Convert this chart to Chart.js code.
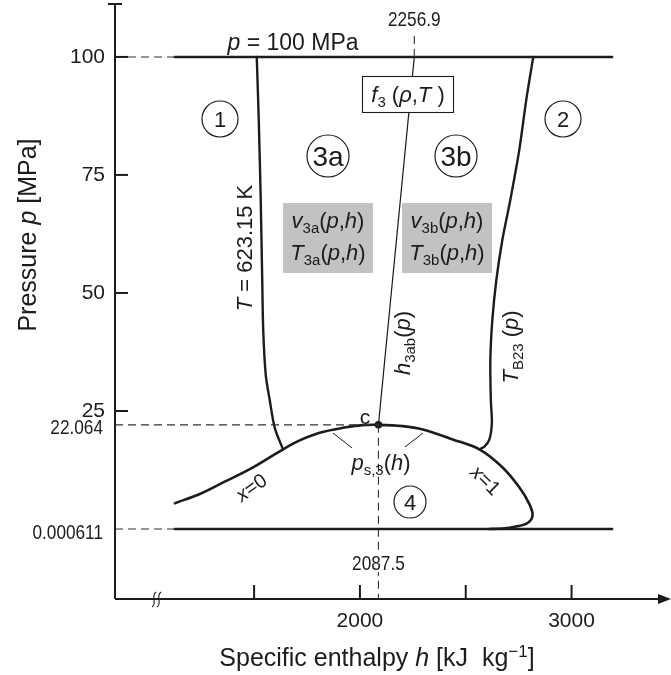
<!DOCTYPE html>
<html>
<head>
<meta charset="utf-8">
<script src="https://cdn.jsdelivr.net/npm/chart.js@4.4.1/dist/chart.umd.min.js"></script>
<style>
  html, body { margin: 0; padding: 0; background: #fff; }
  #wrap { width: 671px; height: 675px; }
</style>
</head>
<body>
<div id="wrap"><canvas id="chart" width="671" height="675"></canvas></div>
<script>
const FONT = '"Liberation Sans", Arial, Helvetica, sans-serif';
const INK = '#1c1c1c';

// axis ranges: h in kJ/kg, p in MPa
const H_MIN = 842.7, H_MAX = 3451;
const P_MIN = -14.83, P_MAX = 111.0;

const pTicks = [25, 50, 75, 100];
const pSpecial = [0.000611, 22.064];
const hTicks = [1500, 2000, 2500, 3000];
const hLabelled = [2000, 3000];

// critical point, 3a/3b split, pressure limits
const critH = 2087.5, critP = 22.064;
const h3abTop = 2256.9;
const pTriple = 0.000611;
const pUpper = 100;
const boundH = [1125.7, 3191.7];

// saturation line: x=0 up to the critical point, then x=1 back down
const satH = [1125.7, 1243.6, 1338, 1479.5, 1636.6, 1715.3, 1809.6, 1919.5, 2012.5, 2087.5,
  2202.6, 2297, 2438.4, 2564.4, 2674.3, 2753, 2800.2, 2815.8, 2792.2, 2737.5, 2673, 2611.5];
const satP = [5.46, 7.42, 9.52, 12.67, 16.87, 18.76, 20.38, 21.43, 22.0, 22.064,
  21.79, 21.08, 18.97, 16.87, 13.03, 8.83, 5.32, 2.88, 1.26, 0.53, 0.1, 0.000611];

// isotherm T = 623.15 K
const isoH = [1512.5, 1522, 1531.3, 1538.4, 1543.1, 1555, 1573.8, 1597.4, 1636.6];
const isoP = [100, 86.65, 69.7, 52.75, 42.16, 32.63, 27.33, 21.43, 16.87];

// B23 boundary T_B23(p)
const b23H = [2819.1, 2786, 2753, 2710.6, 2672.9, 2644.6, 2625.7, 2616.3, 2618.6, 2623.4, 2611.5, 2588, 2564.4];
const b23P = [100, 90.89, 80.3, 69.7, 61.23, 52.75, 44.28, 35.8, 27.33, 22.44, 18.91, 17.44, 16.87];

const pts = (hs, ps) => hs.map((h, i) => ({ x: h, y: ps[i] }));

function solid(data, width, tension) {
  return { data, showLine: true, borderColor: INK, borderWidth: width, pointRadius: 0, tension, fill: false, borderCapStyle: 'round' };
}

function dashed(data) {
  return { data, showLine: true, borderColor: '#333', borderWidth: 1.1, borderDash: [8, 5], pointRadius: 0, tension: 0 };
}

// draws a run of text pieces; style: '' | 'i' | 'sub' | 'sup'
function rich(ctx, parts, x, y, size, align = 'center') {
  const items = parts.map(([t, s]) => {
    const small = s === 'sub' || s === 'sup';
    const fs = small ? size * 0.68 : size;
    const font = `${s === 'i' ? 'italic ' : ''}${fs}px ${FONT}`;
    ctx.font = font;
    const dy = s === 'sub' ? size * 0.22 : s === 'sup' ? -size * 0.38 : 0;
    return { t, font, dy, w: ctx.measureText(t).width };
  });
  const total = items.reduce((a, m) => a + m.w, 0);
  let cx = align === 'center' ? x - total / 2 : align === 'right' ? x - total : x;
  const base = y + size * 0.36;
  ctx.textAlign = 'left';
  ctx.textBaseline = 'alphabetic';
  items.forEach(m => {
    ctx.font = m.font;
    ctx.fillText(m.t, cx, base + m.dy);
    cx += m.w;
  });
}

// condensed numerals for the guide-line values
function narrow(ctx, text, x, y, size, align) {
  ctx.save();
  ctx.translate(x, y);
  ctx.scale(0.82, 1);
  rich(ctx, [[text, '']], 0, 0, size, align);
  ctx.restore();
}

function richAt(ctx, parts, x, y, size, angle) {
  ctx.save();
  ctx.translate(x, y);
  ctx.rotate(angle);
  rich(ctx, parts, 0, 0, size);
  ctx.restore();
}

function seg(ctx, x1, y1, x2, y2) {
  ctx.beginPath();
  ctx.moveTo(x1, y1);
  ctx.lineTo(x2, y2);
  ctx.stroke();
}

function circled(ctx, text, x, y, r, size) {
  ctx.lineWidth = 1.2;
  ctx.beginPath();
  ctx.arc(x, y, r, 0, Math.PI * 2);
  ctx.stroke();
  rich(ctx, [[text, '']], x, y, size);
}

const frame = {
  id: 'frame',
  afterDraw(chart) {
    const { ctx, chartArea: a, scales: { x, y } } = chart;
    ctx.save();
    ctx.strokeStyle = INK;
    ctx.fillStyle = INK;

    // axes
    ctx.lineWidth = 2;
    seg(ctx, a.left, a.bottom, a.left, a.top - 1);
    seg(ctx, a.left - 7, a.top - 1, a.left + 7, a.top - 1);
    seg(ctx, a.left, a.bottom, 660, a.bottom);
    ctx.beginPath();
    ctx.moveTo(671, a.bottom);
    ctx.lineTo(658, a.bottom - 5);
    ctx.lineTo(658, a.bottom + 5);
    ctx.closePath();
    ctx.fill();

    // inward tick marks
    pTicks.forEach(v => {
      const py = y.getPixelForValue(v);
      seg(ctx, a.left, py, a.left + 13, py);
    });
    hTicks.forEach(v => {
      const px = x.getPixelForValue(v);
      seg(ctx, px, a.bottom, px, a.bottom - 14);
    });

    // axis break
    ctx.lineWidth = 1.1;
    [0, 5].forEach(d => {
      ctx.beginPath();
      ctx.moveTo(152 + d, 607);
      ctx.bezierCurveTo(158 + d, 603, 150 + d, 597, 156 + d, 592);
      ctx.stroke();
    });

    // values of the dashed guides
    pSpecial.forEach(v => narrow(ctx, String(v), a.left - 12, y.getPixelForValue(v) + (v > 1 ? 2 : 2), 21, 'right'));
    const cx = x.getPixelForValue(critH);
    ctx.fillStyle = '#fff';
    ctx.fillRect(cx - 30, 552, 60, 20);
    ctx.fillStyle = INK;
    narrow(ctx, String(critH), cx, 562, 21, 'center');
    narrow(ctx, String(h3abTop), x.getPixelForValue(h3abTop), 18, 21, 'center');

    // f3 box over the 3a/3b boundary
    ctx.fillStyle = '#fff';
    ctx.fillRect(362, 76, 92, 37);
    ctx.lineWidth = 1.1;
    ctx.strokeRect(362.5, 76.5, 91, 36);
    ctx.fillStyle = INK;
    rich(ctx, [['f', 'i'], ['3', 'sub'], [' (', ''], ['ρ', 'i'], [',', ''], ['T', 'i'], [' )', '']], 408, 94, 22);

    // grey boxes for the backward equations
    ctx.fillStyle = '#c2c2c2';
    ctx.fillRect(283, 203, 90, 70);
    ctx.fillRect(402, 203, 90, 70);
    ctx.fillStyle = INK;
    rich(ctx, [['v', 'i'], ['3a', 'sub'], ['(', ''], ['p', 'i'], [',', ''], ['h', 'i'], [')', '']], 328, 220, 22);
    rich(ctx, [['T', 'i'], ['3a', 'sub'], ['(', ''], ['p', 'i'], [',', ''], ['h', 'i'], [')', '']], 328, 252, 22);
    rich(ctx, [['v', 'i'], ['3b', 'sub'], ['(', ''], ['p', 'i'], [',', ''], ['h', 'i'], [')', '']], 447, 220, 22);
    rich(ctx, [['T', 'i'], ['3b', 'sub'], ['(', ''], ['p', 'i'], [',', ''], ['h', 'i'], [')', '']], 447, 252, 22);

    // region numbers
    circled(ctx, '1', 220, 119, 18, 22);
    circled(ctx, '2', 563, 119, 18, 22);
    circled(ctx, '3a', 328, 156, 21, 28);
    circled(ctx, '3b', 456, 156, 21, 28);
    circled(ctx, '4', 410, 502, 16, 22);

    // curve labels
    rich(ctx, [['p', 'i'], [' = 100 MPa', '']], 293, 42, 23);
    richAt(ctx, [['T', 'i'], [' = 623.15 K', '']], 244, 248, 22, -Math.PI / 2);
    richAt(ctx, [['h', 'i'], ['3ab', 'sub'], ['(', ''], ['p', 'i'], [')', '']], 402, 343, 22, -Math.PI / 2);
    richAt(ctx, [['T', 'i'], ['B23', 'sub'], [' (', ''], ['p', 'i'], [')', '']], 510, 347, 22, -Math.PI / 2);
    richAt(ctx, [['x', 'i'], ['=0', '']], 251, 487, 20, -0.62);
    richAt(ctx, [['x', 'i'], ['=1', '']], 486, 480, 20, 0.78);
    rich(ctx, [['p', 'i'], ['s,3', 'sub'], ['(', ''], ['h', 'i'], [')', '']], 381, 462, 22);
    rich(ctx, [['c', '']], 365, 416, 21);
    ctx.lineWidth = 1;
    seg(ctx, 333, 433, 352, 448);
    seg(ctx, 423, 433, 405, 447);

    // axis titles
    rich(ctx, [['Specific enthalpy ', ''], ['h', 'i'], [' [kJ  kg', ''], ['−1', 'sup'], [']', '']], 377, 657, 25);
    richAt(ctx, [['Pressure ', ''], ['p', 'i'], [' [MPa]', '']], 27, 235, 25, -Math.PI / 2);

    ctx.restore();
  }
};

new Chart(document.getElementById('chart'), {
  type: 'scatter',
  data: {
    datasets: [
      dashed([{ x: H_MIN, y: pUpper }, { x: boundH[0], y: pUpper }]),
      dashed([{ x: H_MIN, y: critP }, { x: critH, y: critP }]),
      dashed([{ x: H_MIN, y: pTriple }, { x: boundH[0], y: pTriple }]),
      dashed([{ x: critH, y: critP }, { x: critH, y: P_MIN }]),
      dashed([{ x: h3abTop, y: pUpper }, { x: h3abTop, y: 104.7 }]),
      solid(pts(boundH, [pUpper, pUpper]), 2.6, 0),
      solid(pts(boundH, [pTriple, pTriple]), 2.6, 0),
      solid(pts(isoH, isoP), 2.4, 0.3),
      solid(pts(b23H, b23P), 2.4, 0.3),
      solid(pts(satH, satP), 2.6, 0.35),
      solid([{ x: critH, y: critP }, { x: h3abTop, y: pUpper }], 1.2, 0),
      { data: [{ x: critH, y: critP }], pointRadius: 3.8, pointBackgroundColor: INK, pointBorderWidth: 0, showLine: false }
    ]
  },
  options: {
    responsive: false,
    animation: false,
    devicePixelRatio: 1,
    layout: { padding: { top: 5, right: 3, left: 0, bottom: 0 } },
    plugins: { legend: { display: false }, tooltip: { enabled: false } },
    scales: {
      x: {
        type: 'linear',
        min: H_MIN,
        max: H_MAX,
        afterBuildTicks: s => { s.ticks = hTicks.map(v => ({ value: v })); },
        afterFit: s => { s.height = 76; s.paddingLeft = 0; s.paddingRight = 0; },
        grid: { display: false, drawTicks: false },
        border: { display: false },
        ticks: {
          autoSkip: false,
          maxRotation: 0,
          padding: 10,
          color: INK,
          font: { family: FONT, size: 21 },
          callback: v => (hLabelled.includes(v) ? String(v) : '')
        }
      },
      y: {
        type: 'linear',
        min: P_MIN,
        max: P_MAX,
        afterBuildTicks: s => { s.ticks = pTicks.map(v => ({ value: v })); },
        afterFit: s => { s.width = 115; s.paddingTop = 0; s.paddingBottom = 0; },
        grid: { display: false, drawTicks: false },
        border: { display: false },
        ticks: {
          autoSkip: false,
          padding: 10,
          color: INK,
          font: { family: FONT, size: 21 },
          callback: v => String(v)
        }
      }
    }
  },
  plugins: [frame]
});
</script>
</body>
</html>
